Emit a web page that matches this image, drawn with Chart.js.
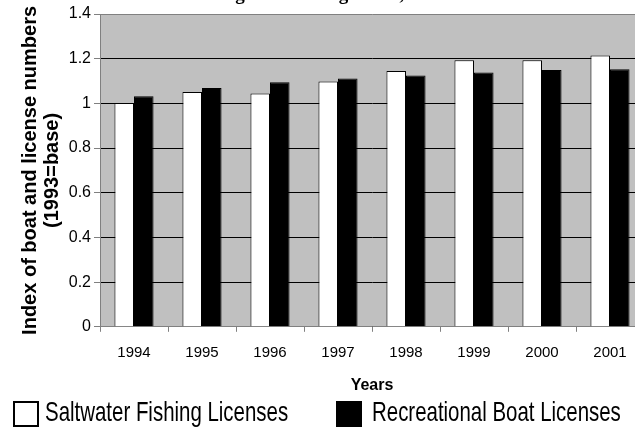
<!DOCTYPE html>
<html>
<head>
<meta charset="utf-8">
<script src="https://cdn.jsdelivr.net/npm/chart.js@4.4.1/dist/chart.umd.min.js"></script>
<style>
  html, body { margin: 0; padding: 0; background: #fff; }
  #wrap { position: relative; width: 635px; height: 427px; overflow: hidden; background: #fff; }
  #chart { position: absolute; left: 0; top: 0; }
  #title { position: absolute; left: 102px; top: -16px; font: bold 19px 'Liberation Serif', 'Times New Roman', serif; line-height: 19px; white-space: nowrap; color: #000; }
  .lg-box { position: absolute; top: 401px; width: 22px; height: 22px; border: 2px solid #000; }
  .lg-text { position: absolute; top: 398px; font-family: 'Liberation Sans', Arial, sans-serif; font-size: 28px; line-height: 28px; color: #000; white-space: nowrap; transform: scaleX(0.73); transform-origin: 0 0; }
</style>
</head>
<body>
<div id="wrap">
  <canvas id="chart" width="660" height="427"></canvas>
  <div id="title">Saltwater Fishing and Boating Index, 1994-2001</div>
  <div id="legend"></div>
</div>
<script>
// ---- data ----
const years = ['1994', '1995', '1996', '1997', '1998', '1999', '2000', '2001'];
const saltwaterFishingLicenses = [1.002, 1.051, 1.044, 1.098, 1.145, 1.193, 1.193, 1.214];
const recreationalBoatLicenses = [1.032, 1.069, 1.094, 1.111, 1.125, 1.138, 1.149, 1.153];
const seriesNames = ['Saltwater Fishing Licenses', 'Recreational Boat Licenses'];
const yTickLabels = ['0', '0.2', '0.4', '0.6', '0.8', '1', '1.2', '1.4'];
const xAxisTitle = 'Years';
const yAxisTitle = ['Index of boat and license numbers', '(1993=base)'];

// ---- styles / layout ----
const seriesFill = ['#ffffff', '#000000'];
const legendBoxLeft = [13, 336];
const legendTextLeft = [45, 372];

const plotBackground = {
  id: 'plotBackground',
  beforeDraw(chart) {
    const { ctx, chartArea: a } = chart;
    ctx.save();
    ctx.fillStyle = '#c0c0c0';
    ctx.fillRect(a.left, a.top, a.right - a.left, a.bottom - a.top);
    ctx.restore();
  }
};

const chart = new Chart(document.getElementById('chart'), {
  type: 'bar',
  data: {
    labels: years,
    datasets: [
      { label: seriesNames[0], data: saltwaterFishingLicenses, backgroundColor: seriesFill[0], borderColor: '#000', borderWidth: 1 },
      { label: seriesNames[1], data: recreationalBoatLicenses, backgroundColor: seriesFill[1], borderColor: '#000', borderWidth: 1 }
    ]
  },
  options: {
    responsive: false,
    animation: false,
    devicePixelRatio: 1,
    layout: { padding: { top: 14, right: 16, bottom: 32, left: 0 } },
    datasets: { bar: { categoryPercentage: 0.575, barPercentage: 1.0 } },
    plugins: {
      legend: { display: false },
      title: { display: false },
      tooltip: { enabled: false }
    },
    scales: {
      x: {
        grid: { display: true, drawOnChartArea: false, drawTicks: true, tickLength: 5, color: '#808080', tickColor: '#808080', offset: true },
        border: { display: true, color: '#808080', width: 1 },
        ticks: { color: '#000', font: { family: "'Liberation Sans', Arial, sans-serif", size: 15 }, padding: 12, maxRotation: 0, autoSkip: false },
        title: { display: true, text: xAxisTitle, color: '#000', font: { family: "'Liberation Sans', Arial, sans-serif", size: 16, weight: 'bold' }, padding: { top: 2, bottom: 0 } }
      },
      y: {
        min: 0, max: 1.4,
        afterFit(scale) { scale.width = 100; },
        grid: {
          color: (c) => (c.index === yTickLabels.length - 1 ? '#808080' : '#000'),
          lineWidth: 1, drawTicks: true, tickLength: 6, tickColor: '#808080'
        },
        border: { display: true, color: '#808080', width: 1 },
        ticks: {
          stepSize: 0.2, color: '#000', padding: 3,
          font: { family: "'Liberation Sans', Arial, sans-serif", size: 16 },
          callback: (v, i) => yTickLabels[i]
        },
        title: { display: true, text: yAxisTitle, color: '#000', font: { family: "'Liberation Sans', Arial, sans-serif", size: 20, weight: 'bold', lineHeight: 1.1 }, padding: { top: 19, bottom: 0 } }
      }
    }
  },
  plugins: [plotBackground]
});

// HTML legend built from the chart's datasets
const legend = document.getElementById('legend');
chart.data.datasets.forEach((ds, i) => {
  const box = document.createElement('div');
  box.className = 'lg-box';
  box.style.left = legendBoxLeft[i] + 'px';
  box.style.background = ds.backgroundColor;
  legend.appendChild(box);
  const t = document.createElement('div');
  t.className = 'lg-text';
  t.style.left = legendTextLeft[i] + 'px';
  t.textContent = ds.label;
  legend.appendChild(t);
});
</script>
</body>
</html>
